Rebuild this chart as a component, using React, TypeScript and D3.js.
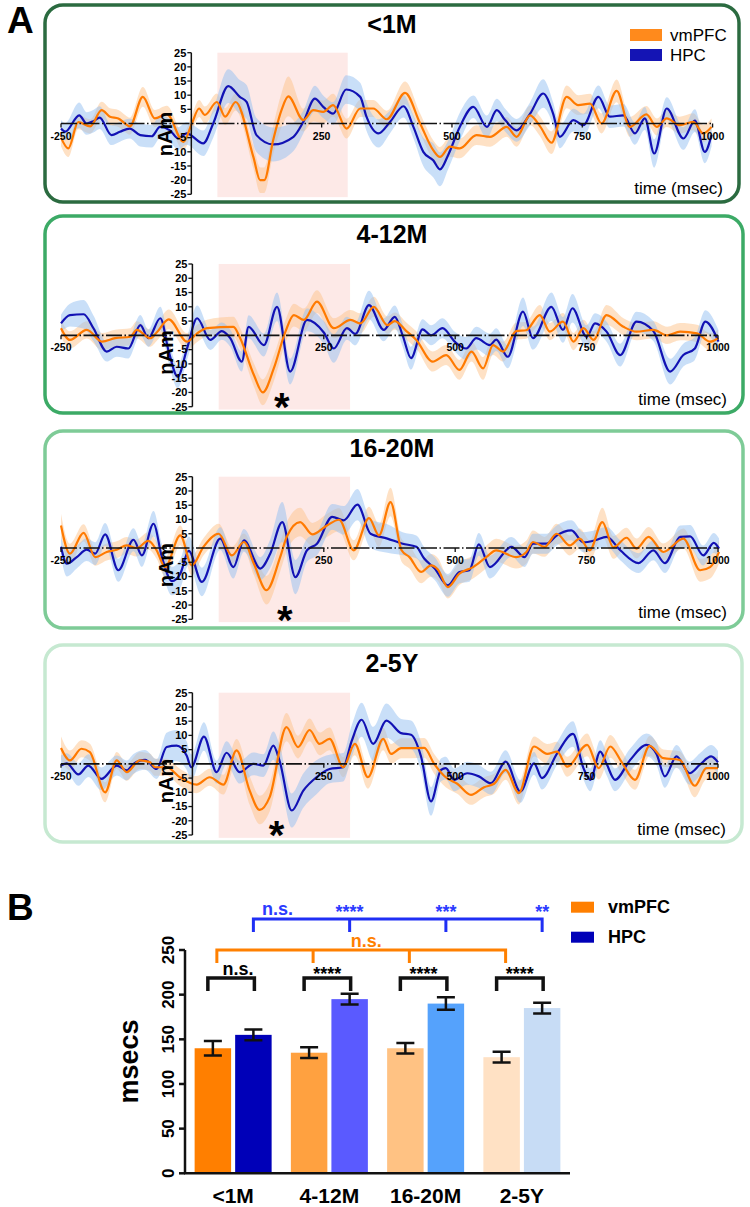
import React, { useRef, useEffect } from 'react';
import * as d3 from 'd3';

// [time ms, mean nAm, half width of shaded band]
type Pt = [number, number, number];

const timeTicks = [-250, 250, 500, 750, 1000];
const nAmTicks = [25, 20, 15, 10, 5, -5, -10, -15, -20, -25];

const vm1M: Pt[] = [
  [-250, -5, 3], [-236, -8.8, 3], [-217, 0.5, 2.5], [-194, -1, 2.5], [-172, 4.7, 3], [-156, 2.4, 3],
  [-140, 1.8, 3], [-127, 0, 3], [-118, -1, 3], [-93, 9.4, 3.5], [-70, 1.8, 3], [-47, 3.3, 3],
  [-15, -6.5, 3], [1, 0, 3], [15, 5.3, 3], [26, 3, 3], [49, 7.6, 3], [65, 2.4, 3], [85, 7.6, 3],
  [119, -11.8, 4], [132, -20, 4.5], [140, -20, 4.5], [157, -5.9, 5], [173, 4.7, 6], [186, 9.6, 7],
  [215, 1.2, 4], [234, 4.7, 4], [253, 4.1, 4], [272, 6.5, 4], [298, -1.8, 3.5], [324, 5.3, 3],
  [349, 5.3, 3], [375, 1.5, 3], [410, 10.8, 4], [439, 0, 3.5], [464, -9.4, 3.5], [477, -11.8, 3.5],
  [496, -8.2, 3.5], [515, -8.8, 3.5], [547, -4.1, 3.5], [573, -4.7, 3.5], [605, -1.2, 3.5],
  [624, -4.7, 3.5], [650, 2.9, 3.5], [669, -1, 3.5], [691, -6.8, 4], [720, 9.4, 4], [742, 6.5, 3.5],
  [765, 7, 3.5], [787, 0, 3.5], [816, 11.5, 4], [841, -1.2, 3.5], [873, 3.2, 3], [893, -1.2, 3],
  [912, 1.8, 3], [937, -0.6, 3], [963, 0.6, 3], [982, -3.5, 3], [998, -1.2, 3],
];
const hpc1M: Pt[] = [
  [-250, -1.8, 3], [-242, -2.9, 3], [-215, 2.9, 4.5], [-201, 0, 4], [-188, 0.8, 4], [-176, 2.1, 4],
  [-153, -4.1, 3.5], [-137, -2.9, 3.5], [-118, -1.8, 3.5], [-98, -4.1, 4], [-76, -4.5, 4],
  [-60, -1.2, 4], [-41, -2.4, 4], [-25, -5.3, 4], [-9, -3.5, 4], [23, -7, 4.5], [42, 0, 5],
  [71, 13.2, 6], [93, 9.4, 6], [106, 7.6, 6], [125, -4.1, 6], [157, -7.4, 6], [196, -4.7, 5],
  [215, 0.6, 4], [237, 8.8, 4.5], [253, 5.9, 4], [272, 3.5, 4], [297, 12, 5], [324, 9.4, 5],
  [336, 2.4, 5], [359, -3.5, 5], [381, 0.5, 4], [407, 6.1, 4], [426, -1.2, 4], [445, -10, 5],
  [464, -13, 6], [477, -16.2, 6], [493, -11, 5], [515, -1.2, 5], [541, 5.9, 4], [567, -1.2, 4],
  [586, 4.7, 4], [602, 1.2, 4], [624, -2.4, 4], [650, 3.5, 4], [675, 10.6, 5], [694, 3.5, 4],
  [707, -4.7, 4], [733, 1.2, 4], [752, -0.6, 4], [781, 9.4, 4], [803, 2.4, 4], [829, 2.9, 4],
  [851, -3.5, 4], [870, 1.8, 4], [888, -10.6, 5], [912, 5.3, 4], [944, -5.3, 4], [966, 1, 4],
  [985, -10, 4], [998, -4, 4],
];

const vm412: Pt[] = [
  [-250, 2.5, 3], [-233, -1.6, 3], [-201, 1.9, 3], [-172, -2.2, 3], [-147, -1, 3], [-118, -0.5, 3],
  [-106, 1.9, 3], [-80, -1, 3], [-68, 1, 3], [-45, 5.6, 3.5], [-10, -2.2, 3], [9, 0.7, 3],
  [28, 2.5, 3], [78, 3, 3.5], [91, -1, 3.5], [117, -13.9, 4], [134, -20, 4.5], [155, -11.5, 4.5],
  [177, 1.3, 4], [193, 7.1, 4], [212, 5.4, 4], [237, 11.8, 4], [269, 2.5, 3.5], [301, 5.4, 3.5],
  [320, 4.2, 3.5], [345, 10, 3.5], [371, 3.6, 3], [385, 5, 3], [407, 1.5, 3], [426, -1.6, 3],
  [457, -9.2, 3.5], [483, -6.9, 3.5], [508, -12.1, 3.5], [531, -5.7, 3.5], [553, -11.6, 4],
  [572, -3.4, 3.5], [591, -5.7, 3.5], [616, 1.5, 3], [635, 1.8, 3], [661, 7.1, 3.5], [680, 1.3, 3],
  [705, 4.8, 3], [725, -2.2, 3], [744, 2.5, 3], [763, -1.6, 3], [788, 7.1, 3.5], [820, 3, 3],
  [845, 1.3, 3], [877, 1.9, 3], [903, 0, 3], [928, 1.3, 3], [960, 0.7, 3], [985, -2.2, 3], [1000, -1, 3],
];
const hpc412: Pt[] = [
  [-250, 4.2, 3], [-233, 7.1, 4], [-207, 7.4, 5], [-188, 2.4, 4.5], [-163, -5.7, 3.5], [-144, -4, 3.5],
  [-122, -4.6, 3.5], [-99, 3.6, 3.5], [-84, -1, 3], [-61, 6, 4], [-45, -5.7, 4], [-28, -14.5, 4],
  [-10, -4.5, 4], [9, 6, 4.5], [34, -1.6, 3.5], [56, 1.5, 3], [72, -1, 3], [94, -9.2, 3.5],
  [107, 3, 4], [136, -3.4, 4], [161, 10, 5], [186, -12.7, 4.5], [218, 5.4, 4], [250, 1, 4],
  [269, -4.6, 5], [294, 2.5, 4], [310, 0.5, 4], [336, 10.6, 5], [364, 1.9, 4], [385, 6.5, 4],
  [400, 0, 4], [416, -8, 4], [438, 2.1, 3.5], [454, 0, 3.5], [476, 2.5, 3.5], [499, -2.2, 3.5],
  [521, -4.6, 4], [540, -1, 4], [566, -3.4, 4], [578, -1.5, 4], [600, -7.5, 4], [629, 8.3, 5],
  [648, -1, 4], [683, 10, 5], [705, 1.9, 4.5], [723, 9.5, 5], [750, -0.5, 4], [766, 4.2, 3.5],
  [788, 1.3, 3.5], [814, -6.9, 4], [845, 4.8, 3.5], [877, 1.5, 3.5], [909, -12.7, 4.5],
  [934, -6.9, 4], [956, -4.6, 4], [976, 4.8, 4], [1001, -2.2, 4],
];

const vm1620: Pt[] = [
  [-250, 7.9, 4], [-233, -2, 3.5], [-207, 5.3, 3], [-185, -3.2, 3], [-163, -1.4, 3], [-144, -0.6, 3],
  [-125, 0.9, 3], [-106, 0, 3], [-84, 2.5, 3], [-68, -0.8, 3], [-52, -6.7, 3.5], [-23, 4.4, 3.5],
  [-1, -6.1, 3.5], [21, 0.4, 3], [50, 5, 3.5], [75, -2.6, 3], [98, 2.1, 3], [117, -5.5, 4],
  [141, -14.8, 5], [167, -3.2, 5], [180, 4.1, 5], [205, 9.1, 5], [228, 4.8, 4], [256, 7.9, 4],
  [279, 9.9, 4], [307, -0.8, 3.5], [336, 10.5, 4], [355, 4.4, 4], [377, 16.1, 5], [398, -0.8, 4],
  [413, -3.2, 4], [435, -8.4, 4], [454, -6.1, 4], [467, -7.5, 4], [486, -13.7, 4], [508, -9, 4],
  [534, -6.7, 4], [559, -3.2, 4], [578, -0.8, 4], [616, -3.2, 4], [635, -1.5, 4], [648, 2.1, 4],
  [670, 0.4, 3.5], [693, 5, 3.5], [718, 0.9, 3.5], [737, 3.3, 3.5], [756, -0.8, 3.5], [780, 9.1, 5],
  [801, 0.2, 4], [826, 3.6, 3.5], [845, -0.2, 3.5], [868, 3.9, 3.5], [896, -1.4, 3], [934, 3.3, 3.5],
  [966, -7.8, 4], [985, -6.7, 4], [1002, -1.4, 4],
];
const hpc1620: Pt[] = [
  [-250, 0.4, 3.5], [-239, -5.5, 4.5], [-220, -3.2, 4], [-201, -0.6, 4], [-185, -2, 4], [-166, 4.8, 4],
  [-141, -7.8, 4], [-112, 2.9, 4], [-96, -2.6, 4], [-74, 8.5, 4.5], [-58, -3.2, 4.5], [-39, -11.6, 5],
  [-23, -9, 5], [-7, -1, 5], [18, -11.9, 5], [53, 3.3, 4], [78, -6.7, 4], [98, 2.7, 4], [129, -7.2, 4],
  [148, -2, 5], [171, 9.1, 7], [196, -10.2, 6], [218, -0.8, 4], [237, 1.5, 4], [266, 10.9, 4.5],
  [288, 9.7, 5], [314, 15.2, 5.5], [339, 5, 5], [371, 3.3, 5], [400, 1.5, 4], [426, 0.4, 4],
  [441, -3.7, 4], [461, -7.2, 4], [486, -13.1, 4], [508, -8.4, 4], [527, -7.8, 4], [545, 1.3, 4],
  [566, -6.7, 4], [607, 0.4, 3.5], [632, -3.2, 3.5], [648, 1.5, 3.5], [674, 1.5, 3.5], [693, 4.4, 3.5],
  [721, 6.2, 3.5], [744, 2, 3.5], [766, 2.7, 3.5], [788, 3.9, 3.5], [814, -0.8, 3.5], [849, -5.3, 3.5],
  [877, -0.8, 3.5], [899, -5.3, 3.5], [928, 3.9, 4], [947, 4.1, 4], [972, -2.6, 3.5], [992, 1.8, 3.5],
  [1002, -0.2, 3.5],
];

const vm25Y: Pt[] = [
  [-250, 5.6, 4], [-233, 1.2, 3.5], [-211, 5.3, 3], [-195, 4.1, 3], [-166, -10, 3.5], [-144, 1.2, 3],
  [-125, -2.9, 3], [-100, 1.2, 3], [-81, 0.6, 3], [-71, -1.2, 3], [-49, -1.2, 3], [-24, -4.7, 3],
  [8, -7.3, 3], [33, -4.7, 3], [59, -7.3, 3.5], [84, 4.7, 4], [109, -9.4, 5], [128, -16.2, 5],
  [147, -11.7, 5], [179, 12.9, 5], [201, 5.9, 4], [223, 11.9, 4], [242, 7, 4], [261, 8.8, 4],
  [287, -1.2, 3.5], [309, 7, 4], [334, -4.7, 4], [363, 8.8, 4], [378, 3.5, 3.5], [397, 5.5, 3.5],
  [416, 5.5, 3.5], [441, 5.6, 3.5], [460, 0, 3.5], [482, -4.7, 3.5], [504, -7, 3.5], [530, -10.9, 3.5],
  [555, -8.2, 3.5], [574, -7, 3.5], [596, -2.1, 3.5], [621, -10.3, 4], [650, 6.1, 3.5], [675, 3.5, 3.5],
  [694, 4.3, 3.5], [713, -1, 3.5], [751, 6.7, 4], [773, -1.5, 4], [795, 6.1, 4], [817, 0.5, 4],
  [842, -5.6, 3.5], [870, 6.3, 3.5], [896, 2, 3], [927, 1.4, 3], [956, -7.7, 4], [978, -1.5, 4],
  [1000, -1.5, 4],
];
const hpc25Y: Pt[] = [
  [-250, -0.6, 3.5], [-239, 0.2, 3.5], [-217, -3.7, 4], [-198, -0.6, 4], [-173, -5.3, 4], [-144, -0.6, 3.5],
  [-125, -2.3, 3.5], [-112, 0, 3.5], [-90, 1.4, 3.5], [-68, -1.8, 3.5], [-49, 5.9, 5], [-30, 6.4, 5.5],
  [-11, 2.9, 5], [-2, -1.2, 4.5], [22, 9.6, 5], [46, -2.9, 4], [65, 3.9, 4], [90, -2.9, 4], [116, 0, 4],
  [135, -0.6, 4], [154, 6.4, 5], [166, 1, 5.5], [189, -16.4, 6], [211, -9.4, 6], [236, -4.7, 6],
  [261, -1.8, 5], [287, -1.2, 5], [303, 8, 5.5], [322, 15.5, 6], [344, 7, 6], [369, 15.2, 6],
  [397, 10.8, 5], [416, 10.2, 5], [435, 2.6, 5], [454, -13.2, 5], [473, -2.1, 4], [482, -1.5, 4],
  [498, -5.6, 4], [523, -3.3, 4], [545, -4.4, 4], [568, -6.8, 4], [596, 0.8, 4], [624, -9.7, 4],
  [650, 0.2, 4], [665, -5, 4], [694, 3.7, 4], [724, 10.5, 4.5], [744, -1.5, 4], [757, -5.6, 4],
  [776, 4.3, 4], [788, 0, 4], [804, -5.6, 4], [833, 1.4, 4], [864, 6.7, 4], [883, 3.5, 4],
  [899, -4.4, 4], [921, 2.6, 4], [946, -3.3, 4], [965, -0.4, 4], [987, 2.6, 4], [1000, 0.5, 4],
];

// panel B
const ageGroups = ['<1M', '4-12M', '16-20M', '2-5Y'];
const latencyVm = [140, 135, 140, 130];
const latencyVmErr = [8, 6, 6, 6];
const latencyHpc = [155, 195, 190, 185];
const latencyHpcErr = [6, 6, 7, 6];
const pairSig = ['n.s.', '****', '****', '****'];
const hpcSig = ['n.s.', '****', '***', '**'];
const vmSig = 'n.s.';
const msecTicks = [0, 50, 100, 150, 200, 250];
const vmColors = ['#ff7f00', '#ffa140', '#ffc283', '#ffe1c4'];
const hpcColors = ['#0000b8', '#5a5aff', '#55a2fc', '#c7dcf5'];

const FONT = 'Liberation Sans, Arial, Helvetica, sans-serif';
const ORANGE = '#ff7a00';
const BLUE = '#1212b4';

const panels = [
  { title: '<1M', vm: vm1M, hpc: hpc1M, box: [45, 5, 739, 202], border: '#2b6b40', x0: 61, x1: 712.6, yTop: 52.7, yBot: 194.3, titleY: 33, timeY: 194, nAmV: -3.7, star: null, legend: true },
  { title: '4-12M', vm: vm412, hpc: hpc412, box: [45, 216, 743, 413], border: '#3caa66', x0: 61, x1: 718, yTop: 264, yBot: 406.7, titleY: 243, timeY: 405, nAmV: -6, star: 170, legend: false },
  { title: '16-20M', vm: vm1620, hpc: hpc1620, box: [45, 431, 743, 628], border: '#7ecb97', x0: 61, x1: 718, yTop: 476.7, yBot: 619.3, titleY: 457, timeY: 618, nAmV: -6, star: 176, legend: false },
  { title: '2-5Y', vm: vm25Y, hpc: hpc25Y, box: [45, 645, 742, 842], border: '#c6e9d1', x0: 61, x1: 718, yTop: 692.7, yBot: 835, titleY: 672, timeY: 835, nAmV: -6, star: 160, legend: false },
];

const App = () => {
  const svgRef = useRef<SVGSVGElement>(null);

  useEffect(() => {
    document.body.style.margin = '0';
    const svg = d3.select(svgRef.current);
    svg.selectAll('*').remove();

    svg.append('text').attr('x', 7).attr('y', 33).attr('font-size', 37).attr('font-weight', 'bold').text('A');

    panels.forEach((p) => {
      const g = svg.append('g');
      const x = d3.scaleLinear().domain([-250, 1000]).range([p.x0, p.x1]);
      const y = d3.scaleLinear().domain([-25, 25]).range([p.yBot, p.yTop]);

      g.append('rect')
        .attr('x', p.box[0]).attr('y', p.box[1])
        .attr('width', p.box[2] - p.box[0]).attr('height', p.box[3] - p.box[1])
        .attr('rx', 18).attr('fill', '#fff')
        .attr('stroke', p.border).attr('stroke-width', 3.5);

      g.append('text')
        .attr('x', 392).attr('y', p.titleY)
        .attr('text-anchor', 'middle').attr('font-size', 25).attr('font-weight', 'bold')
        .text(p.title);

      // stimulus window
      g.append('rect')
        .attr('x', x(50)).attr('y', y(25))
        .attr('width', x(300) - x(50)).attr('height', y(-26) - y(25))
        .attr('fill', '#fde9e7');

      const area = d3.area<Pt>()
        .x((d) => x(d[0])).y0((d) => y(d[1] - d[2])).y1((d) => y(d[1] + d[2]))
        .curve(d3.curveMonotoneX);
      const line = d3.line<Pt>()
        .x((d) => x(d[0])).y((d) => y(d[1]))
        .curve(d3.curveMonotoneX);

      g.append('path').attr('d', area(p.vm)).attr('fill', '#fdc48c').attr('opacity', 0.5);
      g.append('path').attr('d', area(p.hpc)).attr('fill', '#94bff2').attr('opacity', 0.5);
      g.append('path').attr('d', line(p.hpc)).attr('fill', 'none').attr('stroke', BLUE).attr('stroke-width', 2.2);
      g.append('path').attr('d', line(p.vm)).attr('fill', 'none').attr('stroke', ORANGE).attr('stroke-width', 2.2);

      // zero line
      g.append('line')
        .attr('x1', x(-250)).attr('x2', x(1000)).attr('y1', y(0)).attr('y2', y(0))
        .attr('stroke', '#111').attr('stroke-width', 1.6)
        .attr('stroke-dasharray', '16,2.5,1.5,2.5');

      // time ticks
      timeTicks.forEach((t) => {
        g.append('line').attr('x1', x(t)).attr('x2', x(t)).attr('y1', y(0)).attr('y2', y(0) + 4)
          .attr('stroke', '#111').attr('stroke-width', 1.3);
        g.append('text')
          .attr('x', x(t)).attr('y', y(0) + 16)
          .attr('text-anchor', 'middle').attr('font-size', 10.5).attr('font-weight', 'bold')
          .text(t);
      });

      // nAm axis
      const ax = x(0);
      g.append('line').attr('x1', ax).attr('x2', ax).attr('y1', y(25)).attr('y2', y(-25))
        .attr('stroke', '#111').attr('stroke-width', 1.5);
      nAmTicks.forEach((v) => {
        g.append('line').attr('x1', ax - 4).attr('x2', ax).attr('y1', y(v)).attr('y2', y(v))
          .attr('stroke', '#111').attr('stroke-width', 1.3);
        g.append('text')
          .attr('x', ax - 5).attr('y', y(v) + 3.8)
          .attr('text-anchor', 'end').attr('font-size', 11).attr('font-weight', 'bold')
          .text(v);
      });
      g.append('text')
        .attr('transform', `translate(${ax - 19},${y(p.nAmV)}) rotate(-90)`)
        .attr('text-anchor', 'middle').attr('font-size', 20).attr('font-weight', 'bold')
        .text('nAm');

      g.append('text')
        .attr('x', p.box[2] - 16).attr('y', p.timeY)
        .attr('text-anchor', 'end').attr('font-size', 17)
        .text('time (msec)');

      if (p.star !== null) {
        g.append('text')
          .attr('x', x(p.star)).attr('y', y(-22) + 23)
          .attr('text-anchor', 'middle').attr('font-size', 40).attr('font-weight', 'bold')
          .text('*');
      }

      if (p.legend) {
        [['vmPFC', '#ff8a1c'], ['HPC', '#1414b4']].forEach(([label, c], i) => {
          g.append('rect').attr('x', 630).attr('y', 29 + i * 20).attr('width', 32).attr('height', 12).attr('fill', c);
          g.append('text').attr('x', 670).attr('y', 41 + i * 20).attr('font-size', 17).text(label);
        });
      }
    });

    // ---- panel B ----
    svg.append('text').attr('x', 7).attr('y', 920).attr('font-size', 37).attr('font-weight', 'bold').text('B');

    const b = svg.append('g');
    const yB = d3.scaleLinear().domain([0, 250]).range([1173.3, 950]);
    const xB = d3.scaleBand<string>().domain(ageGroups).range([185, 570]).paddingInner(0.2).paddingOuter(0.1);
    const sub = d3.scaleBand<string>().domain(['vm', 'hpc']).range([0, xB.bandwidth()]).paddingInner(0.1);
    const bw = sub.bandwidth();
    const vmCx = (g: string) => (xB(g) as number) + (sub('vm') as number) + bw / 2;
    const hpcCx = (g: string) => (xB(g) as number) + (sub('hpc') as number) + bw / 2;

    ageGroups.forEach((grp, i) => {
      const bars = [
        { cx: vmCx(grp), v: latencyVm[i], e: latencyVmErr[i], c: vmColors[i] },
        { cx: hpcCx(grp), v: latencyHpc[i], e: latencyHpcErr[i], c: hpcColors[i] },
      ];
      bars.forEach((d) => {
        b.append('rect')
          .attr('x', d.cx - bw / 2).attr('y', yB(d.v))
          .attr('width', bw).attr('height', yB(0) - yB(d.v))
          .attr('fill', d.c);
        b.append('path')
          .attr('d', `M${d.cx},${yB(d.v - d.e)}V${yB(d.v + d.e)}M${d.cx - 9},${yB(d.v + d.e)}H${d.cx + 9}M${d.cx - 9},${yB(d.v - d.e)}H${d.cx + 9}`)
          .attr('stroke', '#111').attr('stroke-width', 2.5).attr('fill', 'none');
      });

      // pairwise bracket
      const l = vmCx(grp) - 5;
      const r = hpcCx(grp) + 1;
      b.append('path')
        .attr('d', `M${l},991V978H${r}V991`)
        .attr('stroke', '#111').attr('stroke-width', 3.5).attr('fill', 'none');
      const isStar = pairSig[i].includes('*');
      b.append('text')
        .attr('x', (l + r) / 2 + (isStar ? 0 : 7)).attr('y', isStar ? 980 : 974.5)
        .attr('text-anchor', 'middle').attr('font-size', 18).attr('font-weight', 'bold')
        .text(pairSig[i]);
    });

    // vmPFC trend bracket
    const vmLegs = ageGroups.map((g) => vmCx(g) + 4);
    b.append('path')
      .attr('d', `M${vmLegs[0]},963V950H${vmLegs[3]}V963` + vmLegs.slice(1, 3).map((lx) => `M${lx},950V963`).join(''))
      .attr('stroke', '#ff8000').attr('stroke-width', 3).attr('fill', 'none');
    b.append('text')
      .attr('x', (vmLegs[0] + vmLegs[3]) / 2 + 5).attr('y', 947)
      .attr('text-anchor', 'middle').attr('font-size', 18).attr('font-weight', 'bold').attr('fill', '#ff8000')
      .text(vmSig);

    // HPC trend bracket
    const hpcLegs = ageGroups.map((g) => hpcCx(g));
    b.append('path')
      .attr('d', `M${hpcLegs[0]},932V919H${hpcLegs[3]}V932` + hpcLegs.slice(1, 3).map((lx) => `M${lx},919V932`).join(''))
      .attr('stroke', '#1f2ff5').attr('stroke-width', 3).attr('fill', 'none');
    hpcSig.forEach((s, i) => {
      const isStar = s.includes('*');
      const tx = i === 0 ? hpcLegs[0] + (hpcLegs[1] - hpcLegs[0]) * 0.25 : hpcLegs[i];
      b.append('text')
        .attr('x', tx).attr('y', isStar ? 918 : 915)
        .attr('text-anchor', 'middle').attr('font-size', 18).attr('font-weight', 'bold').attr('fill', '#2a3aff')
        .text(s);
    });

    // axes
    b.append('line').attr('x1', 185).attr('x2', 185).attr('y1', yB(250)).attr('y2', yB(0))
      .attr('stroke', '#111').attr('stroke-width', 2.5);
    b.append('line').attr('x1', 184).attr('x2', 570).attr('y1', yB(0)).attr('y2', yB(0))
      .attr('stroke', '#111').attr('stroke-width', 2.5);
    msecTicks.forEach((v) => {
      b.append('line').attr('x1', 179).attr('x2', 185).attr('y1', yB(v)).attr('y2', yB(v))
        .attr('stroke', '#111').attr('stroke-width', 2.5);
      b.append('text')
        .attr('transform', `translate(174,${yB(v)}) rotate(-90)`)
        .attr('text-anchor', 'middle').attr('font-size', 17).attr('font-weight', 'bold')
        .text(v);
    });
    b.append('text')
      .attr('transform', 'translate(138,1061.5) rotate(-90)')
      .attr('text-anchor', 'middle').attr('font-size', 27).attr('font-weight', 'bold')
      .text('msecs');
    ageGroups.forEach((grp) => {
      b.append('text')
        .attr('x', (xB(grp) as number) + xB.bandwidth() / 2).attr('y', 1203)
        .attr('text-anchor', 'middle').attr('font-size', 21).attr('font-weight', 'bold')
        .text(grp);
    });

    // legend
    [['vmPFC', '#ff7f00'], ['HPC', '#0000b8']].forEach(([label, c], i) => {
      b.append('rect').attr('x', 571).attr('y', 901.7 + i * 30).attr('width', 23).attr('height', 11).attr('fill', c);
      b.append('text').attr('x', 608).attr('y', 913 + i * 30)
        .attr('font-size', 18).attr('font-weight', 'bold').text(label);
    });
  }, []);

  return (
    <svg
      ref={svgRef}
      width={750}
      height={1207}
      style={{ display: 'block', fontFamily: FONT, background: '#fff' }}
    />
  );
};

export default App;
